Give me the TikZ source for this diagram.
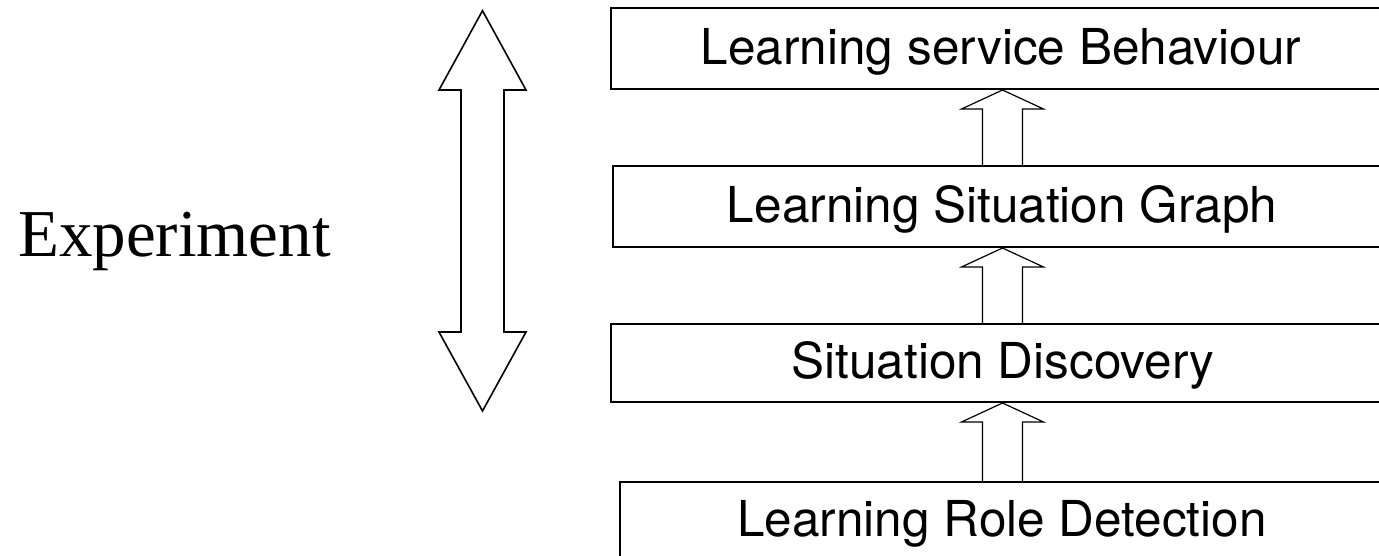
\documentclass[tikz,border=0pt]{standalone}
\usepackage{fontspec}
\setmainfont{Liberation Serif}
\newfontfamily\boxfont{TeX Gyre Heros}
\usetikzlibrary{calc}
\tikzset{
  layerbox/.style={draw, line width=2pt, rectangle, inner sep=0pt, minimum width=800pt, minimum height=#1, anchor=north west},
  layertext/.style={inner sep=0pt, anchor=base, font=\boxfont\fontsize{49.5}{55}\selectfont},
  blockarr/.style={draw, line width=1.2pt, line join=miter},
  bigarr/.style={draw, line width=1.6pt, line join=miter},
}
\begin{document}
\begin{tikzpicture}[x=1pt,y=-1pt]
\clip (0,0) rectangle (1379,556);
\fill[white] (0,0) rectangle (1379,556);
\coordinate (ax) at (1002.5,0);
% boxes
\node[layerbox=81pt] (b1) at (610,7) {};
\node[layerbox=81pt] (b2) at (612,165) {};
\node[layerbox=78pt] (b3) at (610,323) {};
\node[layerbox=100pt] (b4) at (619,481) {};
% texts
\node[layertext] (t1) at (1001,65) {Learning service Behaviour};
\node[layertext] (t2) at (1002,223) {Learning Situation Graph};
\node[layertext] (t3) at (1003,378) {Situation Discovery};
\node[layertext] (t4) at (1002,536) {Learning Role Detection};
% block arrows between boxes
\foreach \lo/\up in {b2/b1, b3/b2, b4/b3}{
  \draw[blockarr] ($(\lo.north -| ax)+(-20,0)$) |- ($(\up.south -| ax)+(-41,19)$)
     -- (\up.south -| ax) -- ($(\up.south -| ax)+(41,19)$) -| ($(\lo.north -| ax)+(20,0)$);
}
% experiment
\node[inner sep=0pt, anchor=base west, font=\fontsize{67}{75}\selectfont] (exp) at (18,257) {Experiment};
\draw[bigarr] (482.5,10.7) -- (526,90) -- (504,90) -- (504,332) -- (526,332) -- (482.5,411)
  -- (439,332) -- (461,332) -- (461,90) -- (439,90) -- cycle;
\end{tikzpicture}
\end{document}
